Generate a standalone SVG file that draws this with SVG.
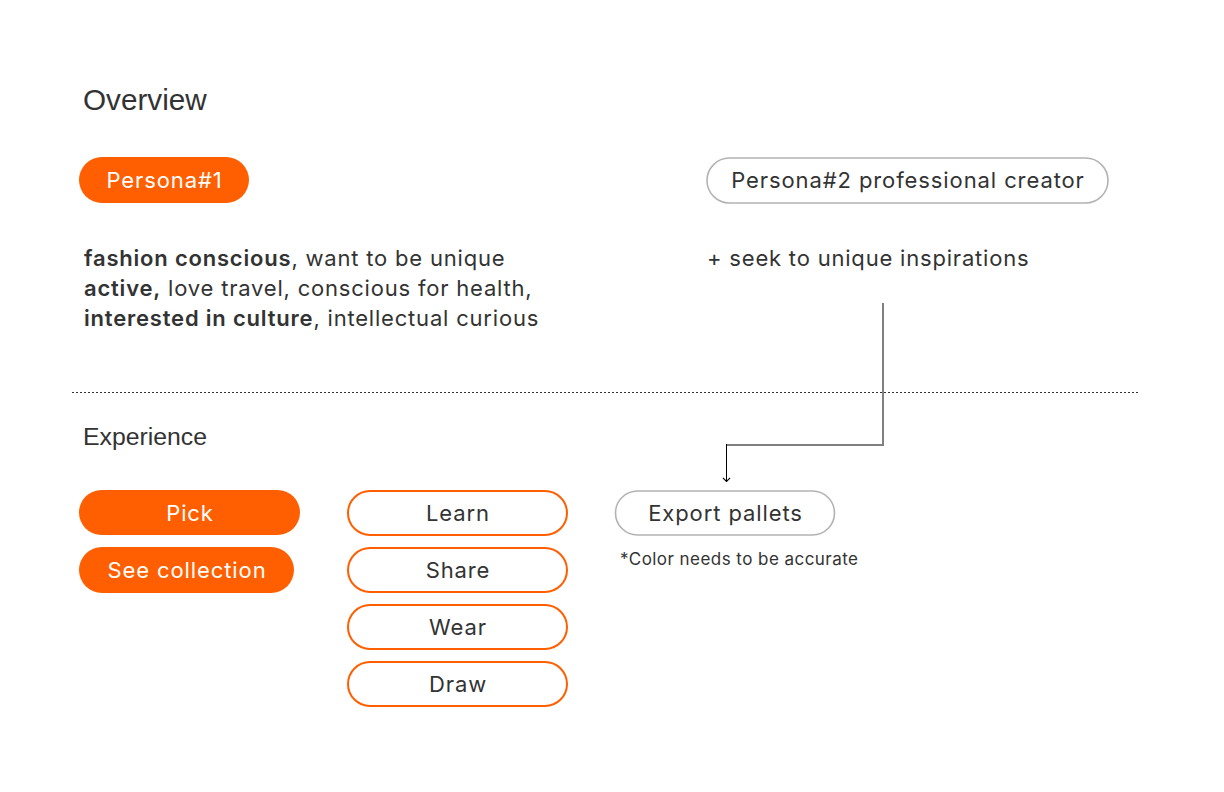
<svg xmlns="http://www.w3.org/2000/svg" width="1224" height="792" viewBox="0 0 1224 792">
<defs>
<style>
.t{font-family:Inter,"Noto Sans","Liberation Sans",sans-serif;fill:#333333;letter-spacing:0.8px}
.h{font-family:"Liberation Sans",Arial,sans-serif;fill:#333333}
.fill{fill:#FF5F00}
.out{fill:#ffffff;stroke:#FF5F00;stroke-width:2}
.grey{fill:#ffffff;stroke:#b3b3b3;stroke-width:1.6}
.wl{font-family:Inter,"Noto Sans","Liberation Sans",sans-serif;fill:#ffffff;font-size:22px;text-anchor:middle;letter-spacing:0.9px}
.dl{font-family:Inter,"Noto Sans","Liberation Sans",sans-serif;fill:#333333;font-size:22px;text-anchor:middle;letter-spacing:0.9px}
.b{font-weight:600}
</style>
<marker id="arr" viewBox="0 0 10 10" refX="9" refY="5" markerWidth="9" markerHeight="9" markerUnits="userSpaceOnUse" orient="auto">
<path d="M5,1 L9,5 L5,9" fill="none" stroke="#000" stroke-width="1.2"/>
</marker>
</defs>
<rect width="1224" height="792" fill="#ffffff"/>

<text class="h" x="83" y="110" font-size="29.7">Overview</text>
<text class="h" x="83" y="445" font-size="24.8">Experience</text>

<g id="persona1">
<rect class="fill" x="79" y="157" width="170" height="46" rx="23"/>
<text class="wl" x="164.5" y="188">Persona#1</text>
</g>
<g id="persona1-desc">
<text class="t" x="84" y="266" font-size="22"><tspan class="b">fashion conscious</tspan>, want to be unique</text>
<text class="t" x="84" y="296" font-size="22"><tspan class="b">active,</tspan> love travel, conscious for health,</text>
<text class="t" x="84" y="326" font-size="22"><tspan class="b">interested in culture</tspan>, intellectual curious</text>
</g>

<g id="persona2">
<rect class="grey" x="707" y="158" width="401" height="45" rx="22.5"/>
<text class="dl" x="908" y="188">Persona#2 professional creator</text>
</g>
<g id="persona2-desc">
<text class="t" x="707" y="266" font-size="22">+ seek to unique inspirations</text>
</g>

<line x1="72" y1="392.5" x2="1138" y2="392.5" stroke="#333" stroke-width="1" stroke-dasharray="2,2"/>

<g id="pick">
<rect class="fill" x="79" y="490" width="221" height="45" rx="22.5"/>
<text class="wl" x="190" y="521">Pick</text>
</g>
<g id="see-collection">
<rect class="fill" x="79" y="547" width="215" height="46" rx="23"/>
<text class="wl" x="187" y="578">See collection</text>
</g>

<g id="learn">
<rect class="out" x="348" y="491" width="219" height="44" rx="22"/>
<text class="dl" x="458" y="521">Learn</text>
</g>
<g id="share">
<rect class="out" x="348" y="548" width="219" height="44" rx="22"/>
<text class="dl" x="458" y="578">Share</text>
</g>
<g id="wear">
<rect class="out" x="348" y="605" width="219" height="44" rx="22"/>
<text class="dl" x="458" y="635">Wear</text>
</g>
<g id="draw">
<rect class="out" x="348" y="662" width="219" height="44" rx="22"/>
<text class="dl" x="458" y="692">Draw</text>
</g>

<g id="export">
<rect class="grey" x="615.5" y="491" width="219" height="44" rx="22"/>
<text class="dl" x="725.5" y="521">Export pallets</text>
<text class="t" x="620" y="565" font-size="17" style="letter-spacing:0.45px">*Color needs to be accurate</text>
</g>

<g id="connectors">
<path d="M883,303 V445 H726" fill="none" stroke="#808080" stroke-width="2"/>
<path d="M726.5,444 V481.5" fill="none" stroke="#000" stroke-width="1" marker-end="url(#arr)"/>
</g>
</svg>
